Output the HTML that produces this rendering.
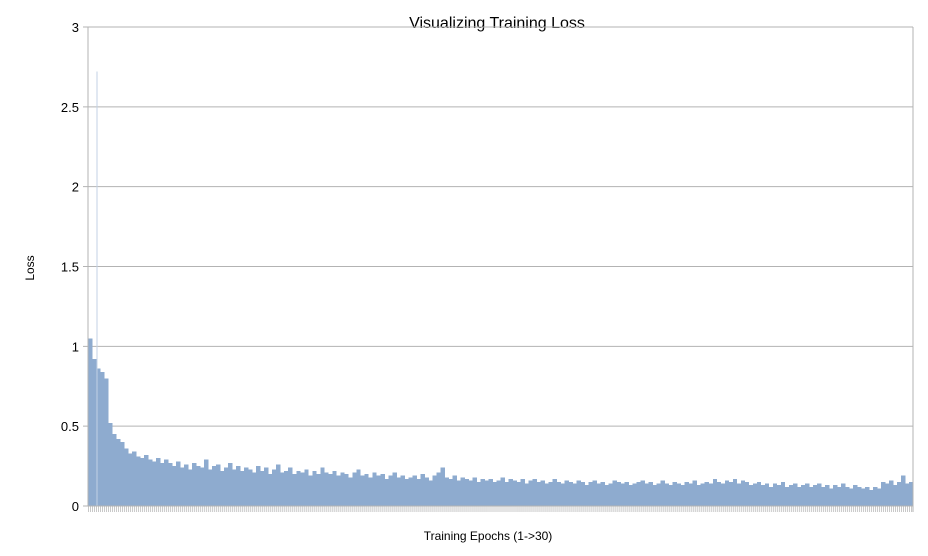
<!DOCTYPE html>
<html><head><meta charset="utf-8"><style>
body{margin:0;background:#fff;}
svg text{font-family:"Liberation Sans",sans-serif;fill:#000;}
</style></head><body>
<svg id="chart" width="928" height="551" viewBox="0 0 928 551" xmlns="http://www.w3.org/2000/svg">
<rect width="928" height="551" fill="#fff"/>
<text x="497" y="28" font-size="16" text-anchor="middle">Visualizing Training Loss</text>
<text transform="translate(34,268) rotate(-90)" font-size="12" text-anchor="middle">Loss</text>
<text x="488" y="540" font-size="12" text-anchor="middle">Training Epochs (1-&gt;30)</text>
<g id="grid"></g><g id="bars"></g><g id="axes"></g>
</svg>
<script>
const yTicks=[0,0.5,1,1.5,2,2.5,3];
const yTickLabels=["0","0.5","1","1.5","2","2.5","3"];
const lossValues=[1.05,0.92,0.86,0.84,0.8,0.52,0.45,0.42,0.4,0.36,0.33,0.34,0.31,0.3,0.32,0.29,0.28,0.3,0.27,0.29,
0.27,0.25,0.28,0.24,0.26,0.23,0.27,0.25,0.24,0.29,0.23,0.25,0.26,0.22,0.24,0.27,0.23,0.25,0.22,0.24,
0.23,0.21,0.25,0.22,0.24,0.2,0.23,0.26,0.21,0.22,0.24,0.2,0.22,0.21,0.23,0.19,0.22,0.2,0.24,0.21,
0.2,0.22,0.19,0.21,0.2,0.18,0.21,0.23,0.19,0.2,0.18,0.21,0.19,0.2,0.17,0.19,0.21,0.18,0.19,0.17,
0.18,0.19,0.17,0.2,0.18,0.16,0.19,0.21,0.24,0.18,0.17,0.19,0.16,0.18,0.17,0.16,0.18,0.15,0.17,0.16,
0.17,0.15,0.16,0.18,0.15,0.17,0.16,0.15,0.17,0.14,0.16,0.17,0.15,0.16,0.14,0.15,0.17,0.15,0.14,0.16,
0.15,0.14,0.16,0.15,0.13,0.15,0.16,0.14,0.15,0.13,0.14,0.16,0.15,0.14,0.15,0.13,0.14,0.15,0.16,0.14,
0.15,0.13,0.14,0.16,0.14,0.13,0.15,0.14,0.13,0.15,0.14,0.16,0.13,0.14,0.15,0.14,0.17,0.15,0.14,0.16,
0.15,0.17,0.14,0.16,0.15,0.13,0.14,0.15,0.13,0.14,0.12,0.14,0.13,0.15,0.12,0.13,0.14,0.12,0.13,0.14,
0.12,0.13,0.14,0.12,0.13,0.11,0.13,0.12,0.14,0.12,0.11,0.13,0.12,0.11,0.12,0.1,0.12,0.11,0.15,0.14,0.16,0.13,0.15,0.19,0.14,0.15];
const spikeIndex=[2];
const spikeValues=[2.72];
const NS="http://www.w3.org/2000/svg";
const X0=88,X1=913,Y0=506,Y3=27;
const yScale=v=>Y0-(v/3)*(Y0-Y3);
const step=(X1-X0)/lossValues.length;
const xScale=i=>X0+i*step;
function mk(tag,attrs,parent){const e=document.createElementNS(NS,tag);for(const k in attrs)e.setAttribute(k,attrs[k]);parent.appendChild(e);return e;}
const grid=document.getElementById('grid'),bars=document.getElementById('bars'),axes=document.getElementById('axes');
yTicks.forEach((t,i)=>{
  const y=yScale(t);
  const l=mk('line',{x1:X0-5,x2:X1,y1:y,y2:y,stroke:'#b3b3b3','stroke-width':1},grid);
  
  
  const tx=mk('text',{x:79,y:y+5,'font-size':13,'text-anchor':'end'},grid);
  tx.textContent=yTickLabels[i];
  
  
});
lossValues.forEach((v,i)=>{
  const y=yScale(v);
  const r=mk('rect',{x:xScale(i),y:y,width:step+0.4,height:Y0-y,fill:'#8eabcf','shape-rendering':'crispEdges'},bars);
  
  
  const tk=mk('line',{x1:xScale(i)+0.5,x2:xScale(i)+0.5,y1:Y0,y2:Y0+6,stroke:'#c8c8c8','stroke-width':1},axes);
  
  
  const tk2=mk('line',{x1:xScale(i)+2.5,x2:xScale(i)+2.5,y1:Y0,y2:Y0+6,stroke:'#c8c8c8','stroke-width':1},axes);
  
  
});
spikeIndex.forEach((idx,i)=>{
  const y=yScale(spikeValues[i]);
  const s=mk('rect',{x:xScale(idx)+0.5,y:y,width:1,height:Y0-y,fill:'#c3d2e4','shape-rendering':'crispEdges'},bars);
  
  
});
const ya=mk('line',{x1:X0,x2:X0,y1:Y3,y2:Y0,stroke:'#b3b3b3','stroke-width':1},axes);


const rb=mk('line',{x1:X1,x2:X1,y1:Y3,y2:Y0+6,stroke:'#b3b3b3','stroke-width':1},axes);


const xa=mk('line',{x1:X0-5,x2:X1,y1:Y0,y2:Y0,stroke:'#b3b3b3','stroke-width':1},axes);


</script>
</body></html>
